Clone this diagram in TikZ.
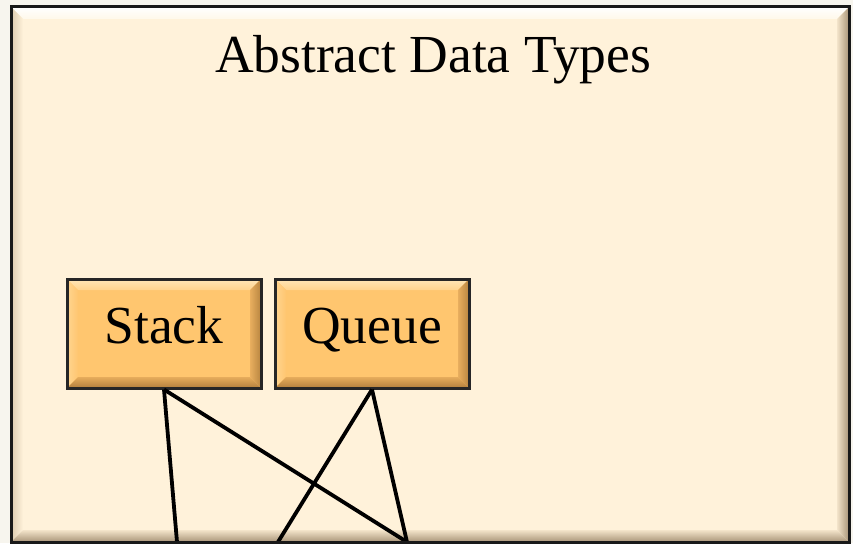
\documentclass[tikz,border=0pt]{standalone}
\usepackage{fontspec}
\setmainfont{Liberation Serif}
\definecolor{paper}{HTML}{F7F5EE}
\definecolor{pageface}{HTML}{FFF2DA}
\definecolor{pagehi}{HTML}{FFFFFF}
\definecolor{pagehiin}{HTML}{FFF8EA}
\definecolor{pageleft}{HTML}{DCCBB0}
\definecolor{pageleftin}{HTML}{FFF2DA}
\definecolor{pageright}{HTML}{A89478}
\definecolor{pagerightin}{HTML}{F3E4CA}
\definecolor{pagelo}{HTML}{A89478}
\definecolor{pageloin}{HTML}{F3E4CA}
\definecolor{boxface}{HTML}{FFC66F}
\definecolor{boxhi}{HTML}{FFE6B8}
\definecolor{boxhiin}{HTML}{FFD38C}
\definecolor{boxleft}{HTML}{FFD590}
\definecolor{boxleftin}{HTML}{FFC670}
\definecolor{boxright}{HTML}{B88540}
\definecolor{boxrightin}{HTML}{E8AE5E}
\definecolor{boxlo}{HTML}{B27F3C}
\definecolor{boxloin}{HTML}{E6AC5C}
% bevelled panel: top-left (#1,#2), bottom-right (#3,#4), bevel width #5, colour prefix #6
\newcommand{\bevelpanel}[6]{%
  \fill[#6face] (#1,#2) rectangle (#3,#4);
  \shade[top color=#6hi, bottom color=#6hiin]
    (#1,#2) -- (#3,#2) -- ({#3-#5},{#2+#5}) -- ({#1+#5},{#2+#5}) -- cycle;
  \shade[left color=#6left, right color=#6leftin]
    (#1,#2) -- ({#1+#5},{#2+#5}) -- ({#1+#5},{#4-#5}) -- (#1,#4) -- cycle;
  \shade[left color=#6rightin, right color=#6right]
    (#3,#2) -- (#3,#4) -- ({#3-#5},{#4-#5}) -- ({#3-#5},{#2+#5}) -- cycle;
  \shade[top color=#6loin, bottom color=#6lo]
    (#1,#4) -- (#3,#4) -- ({#3-#5},{#4-#5}) -- ({#1+#5},{#4-#5}) -- cycle;
}
\tikzset{
  adtbox/.style={draw=black!85, line width=3pt, minimum width=194pt,
    minimum height=109pt, inner sep=0pt, text height=36pt, text depth=16pt,
    font=\fontsize{53.5}{60}\selectfont},
  title/.style={font=\fontsize{53.5}{60}\selectfont, anchor=base, inner sep=0pt},
  conn/.style={draw=black, line width=3.8pt}
}
\begin{document}
\begin{tikzpicture}[x=1pt, y=-1pt]
  \useasboundingbox (0,0) rectangle (853,543);
  \fill[paper] (0,0) rectangle (853,543);
  % outer panel
  \bevelpanel{11}{7}{849}{542}{12}{page}
  \node[title] (heading) at (433,72) {Abstract Data Types};
  % the two ADT boxes
  \bevelpanel{67}{279}{261}{388}{11}{box}
  \bevelpanel{275}{279}{469}{388}{11}{box}
  \node[adtbox] (stack) at (164,333.5) {Stack};
  \node[adtbox] (queue) at (372,333.5) {Queue};
  % connector ends at the lower edge
  \coordinate (s1) at (177,542);
  \coordinate (q1) at (278,542);
  \coordinate (m) at (407,542);
  \draw[conn] (stack.south) -- (s1);
  \draw[conn] (stack.south) -- (m);
  \draw[conn] (queue.south) -- (q1);
  \draw[conn] (queue.south) -- (m);
  \draw[black!90, line width=3pt] (11,7) rectangle (849,542);
\end{tikzpicture}
\end{document}
